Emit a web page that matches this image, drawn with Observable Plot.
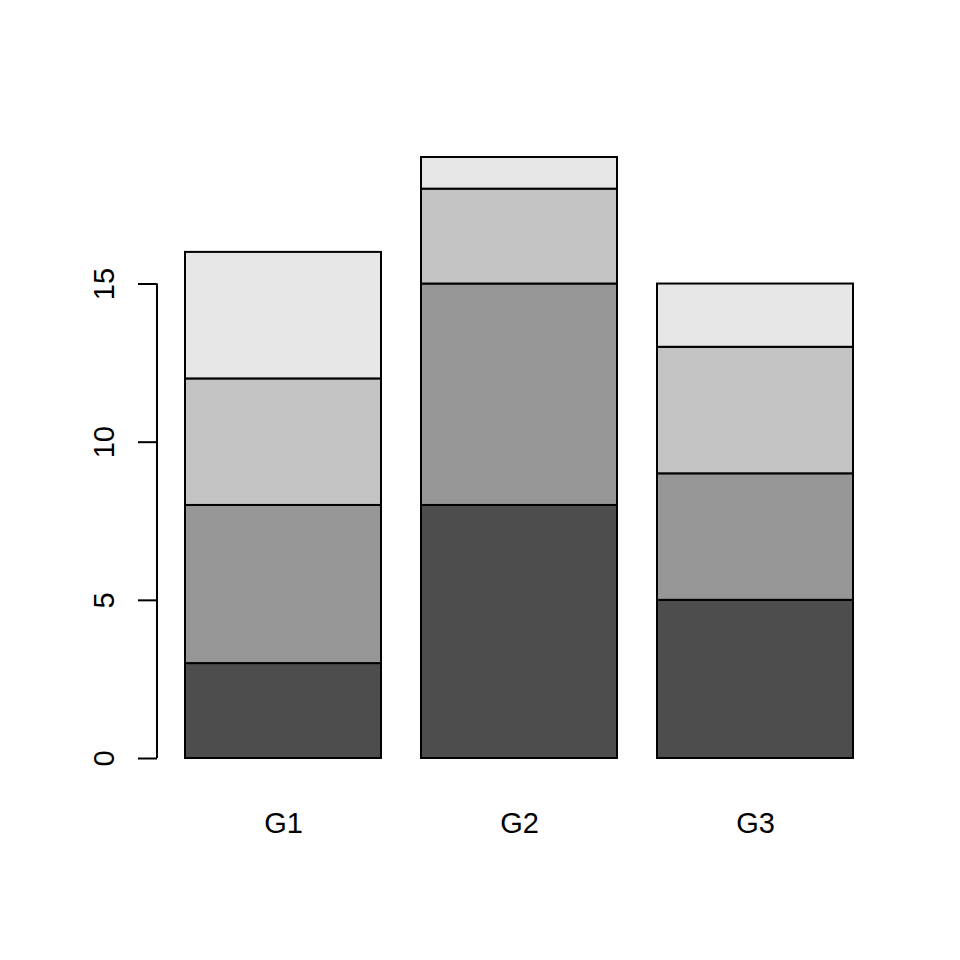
<!DOCTYPE html>
<html>
<head>
<meta charset="utf-8">
<script src="https://cdn.jsdelivr.net/npm/d3@7"></script>
<script src="https://cdn.jsdelivr.net/npm/@observablehq/plot@0.6"></script>
<style>
  html, body { margin: 0; padding: 0; background: #ffffff; }
  #chart { width: 960px; height: 960px; }
</style>
</head>
<body>
<div id="chart"></div>
<script>
const groups = ["G1", "G2", "G3"];
const series = ["S1", "S2", "S3", "S4"];
const s1 = [3, 8, 5];
const s2 = [5, 7, 4];
const s3 = [4, 3, 4];
const s4 = [4, 1, 2];
const fills = ["#4D4D4D", "#969696", "#C3C3C3", "#E6E6E6"];
const yTicks = [0, 5, 10, 15];

const seriesValues = [s1, s2, s3, s4];
const rows = [];
series.forEach((s, si) => {
  groups.forEach((g, gi) => {
    rows.push({group: g, series: s, value: seriesValues[si][gi]});
  });
});

const font = "'Liberation Sans', Arial, sans-serif";

const axisLine = (index, scales, values, dimensions) => {
  const line = document.createElementNS("http://www.w3.org/2000/svg", "line");
  line.setAttribute("x1", dimensions.marginLeft);
  line.setAttribute("x2", dimensions.marginLeft);
  line.setAttribute("y1", scales.y(yTicks[0]));
  line.setAttribute("y2", scales.y(yTicks[yTicks.length - 1]));
  line.setAttribute("stroke", "#000");
  line.setAttribute("stroke-width", 2);
  return line;
};

const chart = Plot.plot({
  width: 960,
  height: 960,
  marginLeft: 157,
  marginRight: 79,
  marginTop: 157,
  marginBottom: 202,
  style: {fontFamily: font, fontSize: "29px", background: "#ffffff", color: "#000"},
  x: {domain: groups, paddingInner: 0.17, paddingOuter: 0.1176, label: null},
  y: {domain: [0, 19], label: null},
  color: {domain: series, range: fills},
  marks: [
    Plot.barY(rows, {x: "group", y: "value", fill: "series", stroke: "#000", strokeWidth: 2}),
    Plot.axisX({tickSize: 0, tickPadding: 54, fontSize: 29, label: null}),
    Plot.axisY({ticks: yTicks, tickSize: 19, tickFormat: () => "", label: null, strokeWidth: 2}),
    Plot.text(yTicks, {y: d => d, text: d => String(d), frameAnchor: "left", dx: -44, rotate: -90, textAnchor: "middle", lineAnchor: "bottom", fontSize: 29}),
    axisLine
  ]
});
document.getElementById("chart").appendChild(chart);
</script>
</body>
</html>
